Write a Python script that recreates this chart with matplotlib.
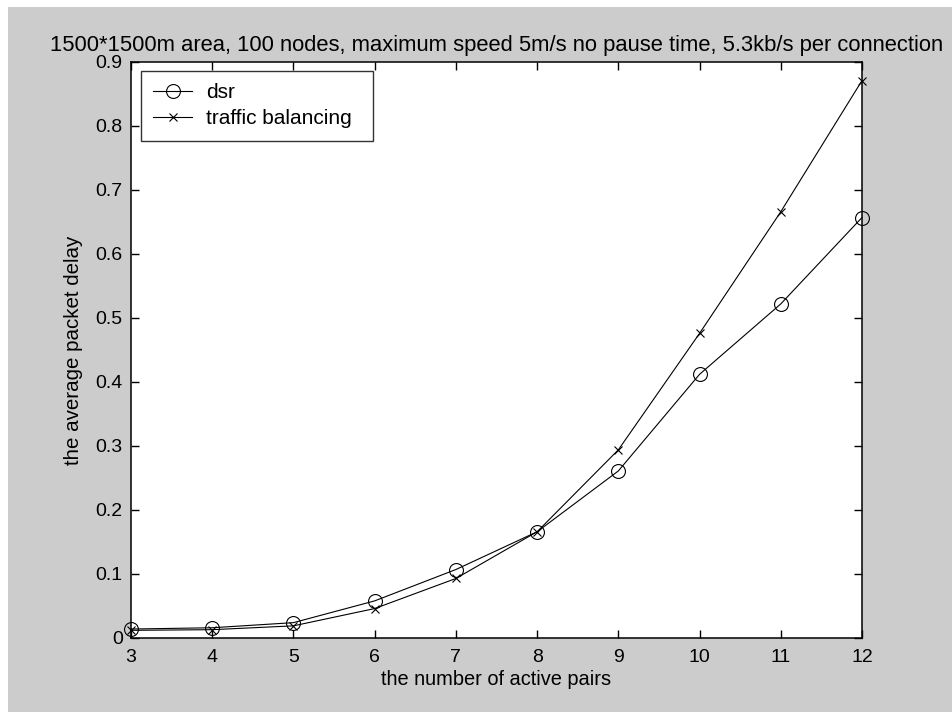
import matplotlib
matplotlib.use("Agg")
import matplotlib.pyplot as plt
from matplotlib.patches import Rectangle

# Data: average packet delay vs number of active pairs
pairs = [3, 4, 5, 6, 7, 8, 9, 10, 11, 12]
dsr = [0.014, 0.016, 0.024, 0.058, 0.107, 0.166, 0.261, 0.412, 0.522, 0.657]
traffic_balancing = [0.012, 0.013, 0.019, 0.046, 0.093, 0.166, 0.294, 0.476, 0.666, 0.871]

x_ticks = [3, 4, 5, 6, 7, 8, 9, 10, 11, 12]
y_ticks = [0, 0.1, 0.2, 0.3, 0.4, 0.5, 0.6, 0.7, 0.8, 0.9]
y_tick_labels = ["0", "0.1", "0.2", "0.3", "0.4", "0.5", "0.6", "0.7", "0.8", "0.9"]

title = "1500*1500m area, 100 nodes, maximum speed 5m/s no pause time, 5.3kb/s per connection"
xlabel = "the number of active pairs"
ylabel = "the average packet delay"

W, H, DPI = 953, 712, 100
plt.rcParams["font.family"] = ["Liberation Sans", "DejaVu Sans"]

fig = plt.figure(figsize=(W / DPI, H / DPI), dpi=DPI, facecolor="white")
# grey window background with a thin white strip along the top and left
fig.patches.append(Rectangle((8 / W, 0), 1 - 8 / W, 1 - 7 / H,
                             transform=fig.transFigure, facecolor="#cccccc",
                             edgecolor="none", zorder=-10))

ax_l, ax_r, ax_t, ax_b = 131, 862, 62, 638
ax_w, ax_h = ax_r - ax_l, ax_b - ax_t
ax = fig.add_axes([ax_l / W, 1 - ax_b / H, ax_w / W, ax_h / H])
ax.set_facecolor("white")

ax.plot(pairs, dsr, color="black", lw=0.8, marker="o", ms=10,
        mfc="none", mec="black", mew=0.8, label="dsr", clip_on=False)
ax.plot(pairs, traffic_balancing, color="black", lw=0.8, marker="x", ms=6,
        mec="black", mew=0.8, label="traffic balancing", clip_on=False)

ax.set_xlim(3, 12)
ax.set_ylim(0, 0.9)
ax.set_xticks(x_ticks)
ax.set_xticklabels([str(v) for v in x_ticks])
ax.set_yticks(y_ticks)
ax.set_yticklabels(y_tick_labels)
ax.tick_params(direction="in", length=6, width=1, top=True, right=True,
               labelsize=14, colors="black")
ax.tick_params(axis="x", pad=8)
ax.tick_params(axis="y", pad=6)
for s in ax.spines.values():
    s.set_linewidth(1.1)
    s.set_color("black")

ax.set_title(title, fontsize=15.8, pad=8)
ax.set_xlabel(xlabel, fontsize=14.4, labelpad=3)
ax.set_ylabel(ylabel, fontsize=14.8, labelpad=9)

# legend box stretched to a fixed width, MATLAB style
leg_l, leg_r, leg_t = 141, 373, 71
leg = ax.legend(loc="upper left", mode="expand",
                bbox_to_anchor=((leg_l - ax_l) / ax_w, 1 - (leg_t - ax_t) / ax_h,
                                (leg_r - leg_l) / ax_w, 0),
                borderaxespad=0, fontsize=15, frameon=True, fancybox=False,
                handlelength=1.85, handletextpad=0.67, borderpad=0.6,
                labelspacing=0.32)
leg.get_frame().set_edgecolor("black")
leg.get_frame().set_linewidth(1.0)

fig.savefig("out.png", dpi=DPI, facecolor=fig.get_facecolor())
